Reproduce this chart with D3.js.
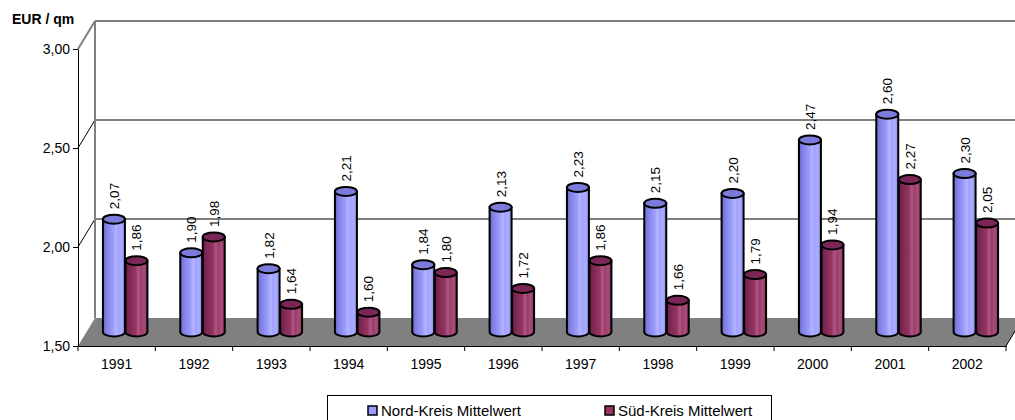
<!DOCTYPE html>
<html>
<head>
<meta charset="utf-8">
<script src="https://cdn.jsdelivr.net/npm/d3@7"></script>
<style>
  html, body { margin: 0; padding: 0; background: #fff; }
  svg { display: block; font-family: "Liberation Sans", Arial, sans-serif; }
</style>
</head>
<body>
<script>
// Average rent per square metre, north vs. south district
const years = ["1991", "1992", "1993", "1994", "1995", "1996", "1997", "1998", "1999", "2000", "2001", "2002"];
const nordValues = [2.07, 1.90, 1.82, 2.21, 1.84, 2.13, 2.23, 2.15, 2.20, 2.47, 2.60, 2.30];
const suedValues = [1.86, 1.98, 1.64, 1.60, 1.80, 1.72, 1.86, 1.66, 1.79, 1.94, 2.27, 2.05];
const yTicks = [1.5, 2.0, 2.5, 3.0];
const seriesNames = ["Nord-Kreis Mittelwert", "Süd-Kreis Mittelwert"];
const axisTitle = "EUR / qm";

const W = 1015, H = 420;
const svg = d3.select("body").append("svg").attr("width", W).attr("height", H);

// 3D frame: the back wall sits up and to the right of the front axes
const depth = { dx: 17, dy: -28 };
const x = d3.scaleBand().domain(years).range([78, 1006]).paddingInner(0).paddingOuter(0);
const y = d3.scaleLinear().domain([1.5, 3]).range([346, 49]);
const fmt = d3.formatLocale({ decimal: ",", thousands: ".", grouping: [3], currency: ["", "€"] }).format(".2f");

const x0 = x.range()[0], x1 = x.range()[1];
const yMin = d3.min(yTicks), yMax = d3.max(yTicks);

// Back wall
const wall = svg.append("g");
wall.append("rect")
  .attr("x", x0 + depth.dx).attr("y", y(yMax) + depth.dy)
  .attr("width", W).attr("height", y(yMin) - y(yMax))
  .attr("fill", "#fff");

// Gridlines on the back wall + connectors to the front axis
yTicks.filter(v => v > yMin).forEach(v => {
  const yb = y(v) + depth.dy;
  wall.append("line")
    .attr("x1", x0 + depth.dx).attr("x2", W + 20)
    .attr("y1", yb).attr("y2", yb)
    .attr("stroke", "#808080").attr("stroke-width", 2);
  wall.append("line")
    .attr("x1", x0).attr("y1", y(v))
    .attr("x2", x0 + depth.dx).attr("y2", yb)
    .attr("stroke", v === yMax ? "#808080" : "#000")
    .attr("stroke-width", v === yMax ? 2 : 1);
});
// Left edge of the back wall
wall.append("line")
  .attr("x1", x0 + depth.dx).attr("x2", x0 + depth.dx)
  .attr("y1", y(yMax) + depth.dy).attr("y2", y(yMin) + depth.dy)
  .attr("stroke", "#808080").attr("stroke-width", 2);

// Floor
svg.append("path")
  .attr("d", `M${x0},${y(yMin)} L${x1},${y(yMin)} L${x1 + depth.dx},${y(yMin) + depth.dy} L${x0 + depth.dx},${y(yMin) + depth.dy} Z`)
  .attr("fill", "#808080");
svg.append("line")
  .attr("x1", x1).attr("y1", y(yMin))
  .attr("x2", x1 + depth.dx).attr("y2", y(yMin) + depth.dy)
  .attr("stroke", "#000").attr("stroke-width", 1);

// Y axis
const yAxis = svg.append("g")
  .attr("transform", `translate(${x0},0)`)
  .call(d3.axisLeft(y).tickValues(yTicks).tickSize(5).tickSizeOuter(0).tickPadding(3).tickFormat(fmt));
yAxis.selectAll("text").attr("font-size", 14).attr("fill", "#000").attr("font-family", "Liberation Sans, Arial, sans-serif");
yAxis.select(".domain").attr("stroke", "#000");

// X axis (labels at band centres, ticks at band boundaries)
const xAxis = svg.append("g")
  .attr("transform", `translate(0,${y(yMin)})`)
  .call(d3.axisBottom(x).tickSize(0).tickSizeOuter(0).tickPadding(13));
xAxis.selectAll("text").attr("font-size", 14).attr("fill", "#000").attr("font-family", "Liberation Sans, Arial, sans-serif");
xAxis.select(".domain").attr("stroke", "#000");
xAxis.selectAll(".bound")
  .data(d3.range(years.length + 1))
  .join("line")
  .attr("class", "bound")
  .attr("x1", i => x0 + i * x.step()).attr("x2", i => x0 + i * x.step())
  .attr("y1", 0).attr("y2", 5)
  .attr("stroke", "#000");

// Axis title
svg.append("text")
  .attr("x", 12).attr("y", 24)
  .attr("font-size", 14).attr("font-weight", "bold")
  .text(axisTitle);

// Cylinder shading
const defs = svg.append("defs");
function addGradient(id, stops) {
  const g = defs.append("linearGradient").attr("id", id)
    .attr("x1", "0%").attr("x2", "100%").attr("y1", "0%").attr("y2", "0%");
  stops.forEach(([o, c]) => g.append("stop").attr("offset", o).attr("stop-color", c));
}
addGradient("gNord", [[0, "#6666c8"], [0.15, "#8080e4"], [0.45, "#9a9afc"], [0.6, "#b4b4ff"], [0.7, "#a2a2ff"], [0.85, "#acacff"], [1, "#8686ea"]]);
addGradient("gSued", [[0, "#661840"], [0.15, "#7a2852"], [0.45, "#93345f"], [0.6, "#b05585"], [0.7, "#9a3d6a"], [0.85, "#a84d7c"], [1, "#86305e"]]);

const series = [
  { name: seriesNames[0], values: nordValues, grad: "url(#gNord)", top: "#7b7bdb", swatch: "#9999ff", offset: -11.25 },
  { name: seriesNames[1], values: suedValues, grad: "url(#gSued)", top: "#7a2656", swatch: "#993366", offset: 11.25 }
];
const rx = 11, ry = 4.5;

const bars = [];
years.forEach((yr, i) => {
  series.forEach(s => {
    bars.push({ yr, v: s.values[i], s });
  });
});

const cyl = svg.append("g");
bars.forEach(b => {
  const cx = x(b.yr) + x.bandwidth() / 2 + depth.dx / 2 + b.s.offset;
  const yBase = y(yMin) + depth.dy / 2;
  const yTop = y(b.v) + depth.dy / 2;
  const g = cyl.append("g");
  g.append("path")
    .attr("d", `M${cx - rx},${yTop} L${cx - rx},${yBase} A${rx},${ry} 0 0 0 ${cx + rx},${yBase} L${cx + rx},${yTop} Z`)
    .attr("fill", b.s.grad)
    .attr("stroke", "#000").attr("stroke-width", 2);
  g.append("ellipse")
    .attr("cx", cx).attr("cy", yTop).attr("rx", rx).attr("ry", ry)
    .attr("fill", b.s.top)
    .attr("stroke", "#000").attr("stroke-width", 2);
  b.cx = cx; b.yTop = yTop;
});

// Value labels, rotated
svg.append("g").selectAll("text")
  .data(bars)
  .join("text")
  .attr("transform", d => `translate(${d.cx + 5},${d.yTop - 10}) rotate(-90)`)
  .attr("font-size", 13.5)
  .attr("fill", "#000")
  .text(d => fmt(d.v));

// Legend
const lg = svg.append("g");
lg.append("rect")
  .attr("x", 327.5).attr("y", 395.5).attr("width", 444).attr("height", 40)
  .attr("fill", "#fff").attr("stroke", "#000").attr("stroke-width", 1);
const legendX = [368, 605];
series.forEach((s, i) => {
  lg.append("rect")
    .attr("x", legendX[i]).attr("y", 406).attr("width", 9).attr("height", 9)
    .attr("fill", s.swatch).attr("stroke", "#000").attr("stroke-width", 1.5);
  lg.append("text")
    .attr("x", legendX[i] + 13).attr("y", 416)
    .attr("font-size", 15)
    .text(s.name);
});
</script>
</body>
</html>
